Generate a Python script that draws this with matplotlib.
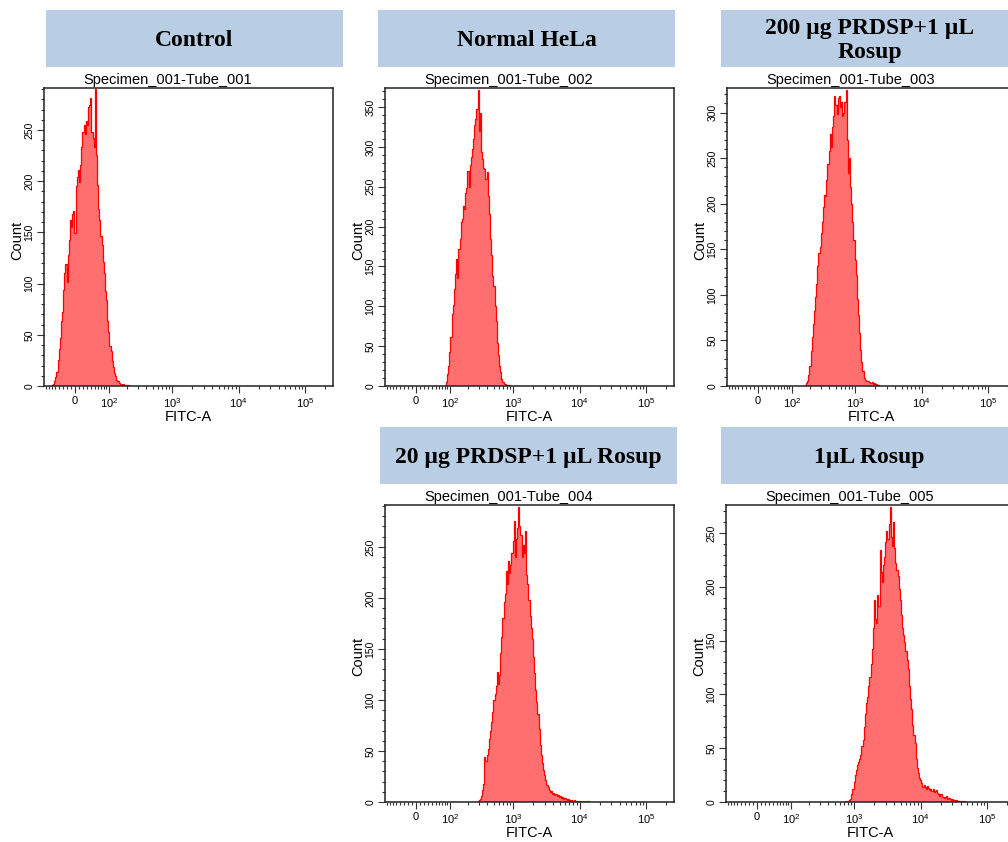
import numpy as np
import matplotlib
matplotlib.use("Agg")
import matplotlib.pyplot as plt
from matplotlib.patches import Rectangle
from matplotlib.ticker import FixedLocator, FixedFormatter, MultipleLocator

plt.rcParams['font.family'] = ['Liberation Sans', 'DejaVu Sans']
plt.rcParams['mathtext.fontset'] = 'custom'
plt.rcParams['mathtext.rm'] = 'Liberation Sans'
plt.rcParams['mathtext.it'] = 'Liberation Sans:italic'
plt.rcParams['mathtext.bf'] = 'Liberation Sans:bold'

# ---------------------------------------------------------------- data
titles = ["Control", "Normal HeLa", "200 µg PRDSP+1 µL\nRosup",
          "20 µg PRDSP+1 µL Rosup", "1µL Rosup"]
tubes = ["Specimen_001-Tube_001", "Specimen_001-Tube_002", "Specimen_001-Tube_003",
         "Specimen_001-Tube_004", "Specimen_001-Tube_005"]

# y-axis maximum of each histogram (auto-scaled to the tallest channel)
count_max = [291, 374, 327, 291, 276]

# first populated display channel of each histogram (256 channels per axis)
first_channel = [7, 53, 69, 82, 105]

counts_tube1 = [1, 2, 5, 9, 14, 25, 36, 47, 63, 72, 94, 110, 119, 102, 128, 143, 162, 155,
                168, 171, 149, 195, 204, 211, 199, 216, 233, 248, 255, 246, 259, 255, 272,
                274, 281, 248, 242, 233, 290, 226, 196, 173, 162, 146, 138, 121, 110, 93,
                84, 63, 53, 39, 34, 24, 19, 13, 10, 6, 5, 3, 2, 2, 1, 2, 1, 0, 1, 1]

counts_tube2 = [1, 5, 15, 25, 43, 62, 90, 102, 122, 140, 159, 136, 172, 184, 206, 210, 226,
                222, 242, 248, 270, 250, 277, 288, 298, 310, 328, 335, 348, 372, 320, 342,
                294, 285, 274, 272, 260, 269, 238, 216, 184, 164, 138, 126, 100, 82, 54, 39,
                25, 17, 9, 5, 3, 2, 1, 1, 0, 1]

counts_tube3 = [1, 3, 5, 12, 22, 38, 54, 68, 82, 98, 112, 132, 146, 152, 168, 180, 196, 210,
                208, 226, 244, 258, 276, 262, 284, 296, 318, 308, 298, 316, 318, 306, 312,
                296, 300, 312, 325, 270, 234, 250, 218, 200, 180, 160, 138, 122, 96, 78, 58,
                40, 26, 16, 9, 7, 6, 5, 5, 4, 3, 4, 2, 3, 1, 2, 1, 1, 0]

counts_tube4 = [1, 2, 3, 6, 12, 18, 44, 40, 46, 52, 62, 70, 78, 88, 100, 106, 114, 127, 116,
                124, 146, 162, 180, 196, 204, 226, 214, 236, 224, 232, 244, 256, 275, 240,
                258, 268, 289, 270, 262, 240, 252, 244, 266, 222, 214, 198, 182, 170, 160,
                142, 126, 110, 98, 86, 72, 56, 46, 38, 31, 26, 22, 17, 15, 12, 10, 11, 8, 9,
                7, 8, 6, 7, 5, 6, 4, 5, 3, 4, 3, 2, 3, 2, 1, 2, 1, 2, 1, 1, 0, 1, 0, 1, 0, 1,
                0, 0, 1, 0, 1]

counts_tube5 = [1, 0, 1, 1, 2, 3, 7, 12, 19, 25, 30, 34, 37, 40, 44, 52, 58, 70, 82, 92, 98,
                108, 116, 128, 142, 162, 188, 170, 166, 192, 182, 234, 214, 204, 220, 228,
                242, 252, 244, 258, 274, 246, 238, 260, 236, 222, 216, 210, 198, 188, 174,
                162, 155, 149, 140, 132, 124, 108, 96, 86, 72, 62, 55, 40, 32, 27, 22, 20,
                18, 14, 16, 14, 12, 15, 13, 11, 12, 10, 12, 9, 10, 11, 8, 7, 6, 7, 5, 5, 4,
                5, 6, 3, 4, 3, 2, 3, 2, 2, 1, 2, 1, 1, 1, 0, 1, 0, 1]

all_counts = [counts_tube1, counts_tube2, counts_tube3, counts_tube4, counts_tube5]

x_major = [0, 100, 1000, 10000, 100000]
x_major_labels = ["0", r"$10^2$", r"$10^3$", r"$10^4$", r"$10^5$"]

# ---------------------------------------------------------------- biexponential axis
BIEX_C = 34.0
U_MIN, U_MAX = 1.065, 5.42
N_CHANNELS = 256


def biex_forward(x):
    return np.log10(BIEX_C) + np.arcsinh(np.asarray(x, dtype=float) / (2 * BIEX_C)) / np.log(10)


def biex_inverse(u):
    return 2 * BIEX_C * np.sinh((np.asarray(u, dtype=float) - np.log10(BIEX_C)) * np.log(10))


channel_edges = biex_inverse(np.linspace(U_MIN, U_MAX, N_CHANNELS + 1))
x_lim = (float(biex_inverse(U_MIN)), float(biex_inverse(U_MAX)))

x_minor = ([v for v in range(-80, 100, 10) if v != 0]
           + [k * 10 ** d for d in (2, 3, 4) for k in range(2, 10)] + [200000])

# ---------------------------------------------------------------- layout (pixels)
W, H = 1008, 842
axes_px = [(44, 88, 289, 298), (385, 88, 289, 298), (727, 88, 289, 298),
           (385, 505, 289, 297), (726, 505, 289, 297)]
header_px = [(46, 10), (378, 10), (721, 10), (380, 427), (721, 427)]
HEADER_W, HEADER_H = 297, 57

HEADER_COLOR = "#b9cde4"
FILL_COLOR = "#ff6f6f"
EDGE_COLOR = "#ff0000"

fig = plt.figure(figsize=(W / 100, H / 100), dpi=100)


def to_fig(x, y, w, h):
    return [x / W, 1 - (y + h) / H, w / W, h / H]


for (hx, hy), title in zip(header_px, titles):
    fig.add_artist(Rectangle((hx / W, 1 - (hy + HEADER_H) / H), HEADER_W / W, HEADER_H / H,
                             transform=fig.transFigure, facecolor=HEADER_COLOR,
                             edgecolor="none"))
    fig.text((hx + HEADER_W / 2) / W, 1 - (hy + HEADER_H / 2 + 2) / H, title,
             ha="center", va="center", fontsize=17, fontweight="bold",
             family=["Liberation Serif", "DejaVu Serif"], linespacing=1.22)

for (axx, axy, aw, ah), tube, counts, f0, ymax in zip(axes_px, tubes, all_counts,
                                                       first_channel, count_max):
    ax = fig.add_axes(to_fig(axx, axy, aw, ah))
    ax.set_xscale("function", functions=(biex_forward, biex_inverse))
    ax.set_xlim(*x_lim)
    ax.set_ylim(0, ymax)

    edges = channel_edges[f0:f0 + len(counts) + 1]
    ax.stairs(counts, edges, fill=True, color=FILL_COLOR, linewidth=0)
    ax.stairs(counts, edges, fill=False, color=EDGE_COLOR, linewidth=0.9, baseline=0)

    ax.xaxis.set_major_locator(FixedLocator(x_major))
    ax.xaxis.set_major_formatter(FixedFormatter(x_major_labels))
    ax.xaxis.set_minor_locator(FixedLocator(x_minor))
    ax.yaxis.set_major_locator(MultipleLocator(50))
    ax.yaxis.set_minor_locator(MultipleLocator(10))

    ax.tick_params(axis="both", which="both", direction="out", top=False, right=False,
                   width=0.8, color="#333333")
    ax.tick_params(axis="both", which="major", length=5)
    ax.tick_params(axis="both", which="minor", length=2.5)
    ax.tick_params(axis="x", which="major", labelsize=8, pad=2.5)
    ax.tick_params(axis="y", which="major", labelsize=7.5, pad=2, labelrotation=90)
    for lab in ax.get_yticklabels():
        lab.set_va("center")

    for sp in ax.spines.values():
        sp.set_linewidth(1.1)
        sp.set_color("#222222")

    ax.set_xlabel("FITC-A", fontsize=10.5, labelpad=0)
    ax.set_ylabel("Count", fontsize=10.5)
    ax.yaxis.set_label_coords(-20 / aw, 0.49)

    fig.text((axx + 124) / W, 1 - (axy - 4) / H, tube, ha="center", va="baseline",
             fontsize=10.5)

fig.savefig("out.png", dpi=100)
